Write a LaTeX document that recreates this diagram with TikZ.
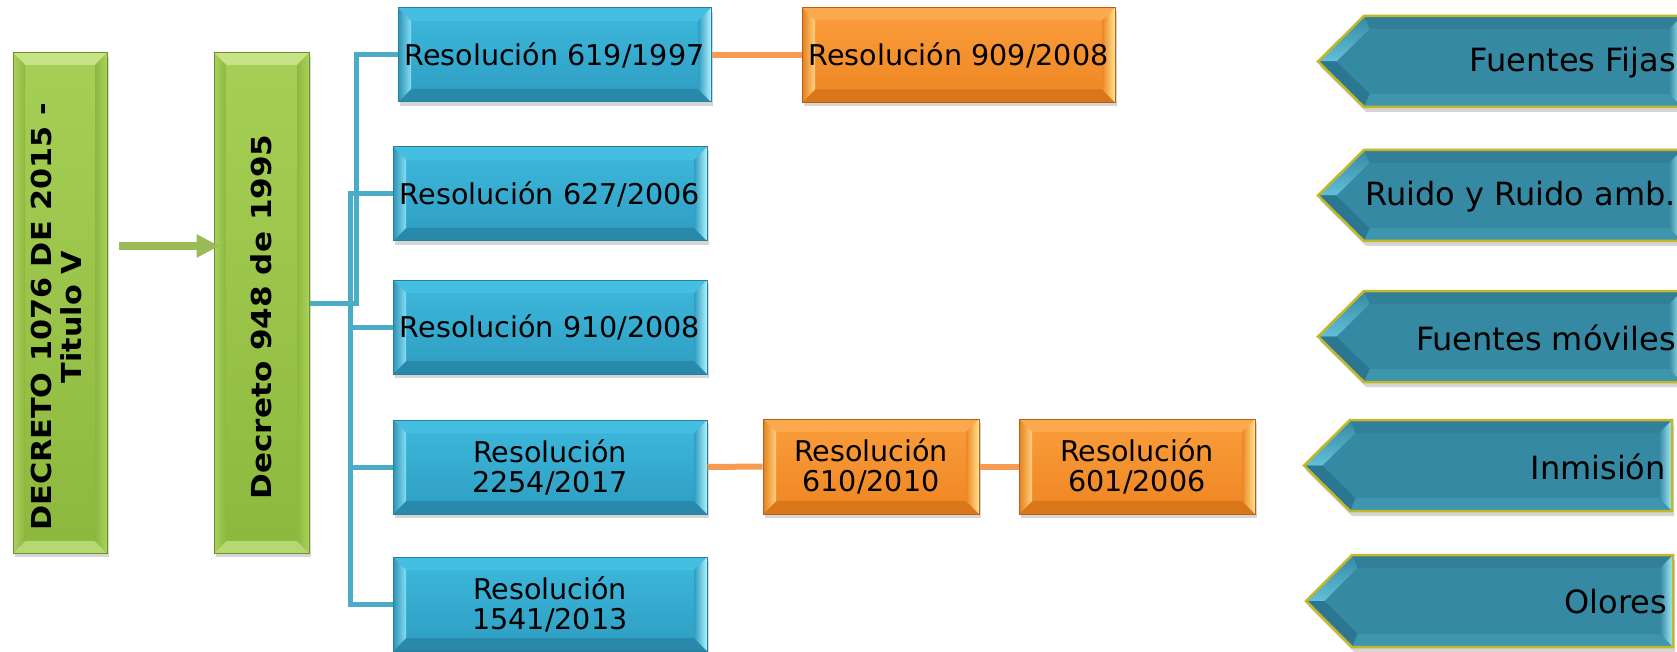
\documentclass[tikz,border=0pt]{standalone}
\usepackage{fontspec}
\setmainfont{DejaVu Sans}
\usetikzlibrary{arrows.meta,shadows,calc}

\definecolor{bMainT}{HTML}{3DB9DD}
\definecolor{bMainB}{HTML}{2E9DC1}
\definecolor{bBorder}{HTML}{2B7F9C}
\definecolor{bTop}{HTML}{45BFE1}
\definecolor{bBot}{HTML}{2889AA}
\definecolor{bLight}{HTML}{B0F3FC}
\definecolor{bLightIn}{HTML}{86DDF2}
\definecolor{bLeftOut}{HTML}{2A93B6}

\definecolor{oMainT}{HTML}{FA9E3C}
\definecolor{oMainB}{HTML}{EE8522}
\definecolor{oBorder}{HTML}{B4611A}
\definecolor{oTop}{HTML}{FBA94C}
\definecolor{oBot}{HTML}{D9761A}
\definecolor{oLight}{HTML}{FFE592}
\definecolor{oLightIn}{HTML}{FFD27E}
\definecolor{oLeftOut}{HTML}{E67E1E}

\definecolor{gMainT}{HTML}{A6D055}
\definecolor{gMainB}{HTML}{8DB83E}
\definecolor{gBorder}{HTML}{6F8E2F}
\definecolor{gTop}{HTML}{C6E386}
\definecolor{gBot}{HTML}{B5D872}
\definecolor{gSide}{HTML}{A9D25C}

\definecolor{sMain}{HTML}{3589A3}
\definecolor{sTop}{HTML}{317F98}
\definecolor{sBot}{HTML}{3E95AE}
\definecolor{sUp}{HTML}{62C0D8}
\definecolor{sLow}{HTML}{2B7690}
\definecolor{sLight}{HTML}{A9F0FA}
\definecolor{sEdge}{HTML}{C2B62A}

\definecolor{lineBlue}{HTML}{4BACC6}
\definecolor{lineOrange}{HTML}{F79A52}
\definecolor{arrowGreen}{HTML}{9BBB59}

\tikzset{
  bevel/.style n args={5}{%
    path picture={
      \path (path picture bounding box.north west) coordinate (pbnw)
            (path picture bounding box.north east) coordinate (pbne)
            (path picture bounding box.south east) coordinate (pbse)
            (path picture bounding box.south west) coordinate (pbsw);
      \fill[#2] (pbnw) -- (pbne) -- ([shift={(-#1,#1)}]pbne) -- ([shift={(#1,#1)}]pbnw) -- cycle;
      \fill[#4] (pbsw) -- (pbse) -- ([shift={(-#1,-#1)}]pbse) -- ([shift={(#1,-#1)}]pbsw) -- cycle;
      \shade[#3] (pbne) -- (pbse) -- ([shift={(-#1,-#1)}]pbse) -- ([shift={(-#1,#1)}]pbne) -- cycle;
      \shade[#5] (pbnw) -- (pbsw) -- ([shift={(#1,-#1)}]pbsw) -- ([shift={(#1,#1)}]pbnw) -- cycle;
    }
  },
  boxshadow/.style={drop shadow={shadow xshift=1.5pt,shadow yshift=-4pt,opacity=.16,fill=black}},
  resbox/.style={draw=bBorder, line width=1pt, top color=bMainT, bottom color=bMainB,
    inner sep=0pt, minimum height=94pt, boxshadow,
    font=\fontsize{28.6}{30}\selectfont, align=center, text=black,
    bevel={13}{bTop}{left color=bMainB,right color=bLight}{bBot}{left color=bLeftOut,right color=bLightIn}},
  orbox/.style={draw=oBorder, line width=1pt, top color=oMainT, bottom color=oMainB,
    inner sep=0pt, minimum height=95pt, boxshadow,
    font=\fontsize{28.6}{30}\selectfont, align=center, text=black,
    bevel={13}{oTop}{left color=oMainB,right color=oLight}{oBot}{left color=oLeftOut,right color=oLightIn}},
  decbox/.style={draw=gBorder, line width=1pt, top color=gMainT, bottom color=gMainB,
    inner sep=0pt, minimum height=500pt, boxshadow,
    font=\bfseries\fontsize{27.5}{30}\selectfont, text=black,
    bevel={12}{gTop}{left color=gMainB,right color=gSide}{gBot}{left color=gSide,right color=gMainB}},
  blueline/.style={draw=lineBlue, line width=5pt},
  orangeline/.style={draw=lineOrange, line width=6pt},
  garrow/.style={draw=arrowGreen, line width=8pt, -{Triangle[length=23pt,width=22pt]}},
  srctext/.style={font=\fontsize{32}{35}\selectfont, text=black, inner sep=0pt, anchor=east}
}

\newcommand\srcshape[7]{%
  \pgfmathsetmacro\ymid{(#5+#6)/2}
  \fill[black,opacity=.16] (#2+2,\ymid+5) -- (#3+2,#5+5) -- (#4+2,#5+5) -- (#4+2,#6+5) -- (#3+2,#6+5) -- cycle;
  \fill[sMain] (#2,\ymid) -- (#3,#5) -- (#4,#5) -- (#4,#6) -- (#3,#6) -- cycle;
  \fill[sTop] (#3,#5) -- (#4,#5) -- (#4-13,#5+13) -- (#3+5.4,#5+13) -- cycle;
  \fill[sBot] (#3,#6) -- (#4,#6) -- (#4-13,#6-13) -- (#3+5.4,#6-13) -- cycle;
  \shade[left color=sMain,right color=sLight] (#4,#5) -- (#4,#6) -- (#4-13,#6-13) -- (#4-13,#5+13) -- cycle;
  \shade[top color=sMain,bottom color=sUp] (#2,\ymid) -- (#3,#5) -- (#3+5.4,#5+13) -- (#2+18.4,\ymid) -- cycle;
  \fill[sLow] (#2,\ymid) -- (#3,#6) -- (#3+5.4,#6-13) -- (#2+18.4,\ymid) -- cycle;
  \draw[sEdge,line width=2.5pt,line join=miter] (#2,\ymid) -- (#3,#5) -- (#4,#5) -- (#4,#6) -- (#3,#6) -- cycle;
  \node[srctext] (#1) at (#4-6,\ymid+1) {#7};
}

\begin{document}
\begin{tikzpicture}[x=1pt,y=-1pt]
\useasboundingbox (0,0) rectangle (1677,652);
\clip (0,0) rectangle (1677,652);
\fill[white] (0,0) rectangle (1677,652);

% green decree boxes
\node[decbox, minimum width=94pt] (d1076) at (60,303)
  {\rotatebox{90}{\scalebox{1.1}[1]{\begin{tabular}{@{}c@{}}DECRETO 1076 DE 2015 -\\Titulo V\end{tabular}}\hspace*{28pt}}};
\node[decbox, minimum width=95pt] (d948) at (261.5,303)
  {\rotatebox{90}{\scalebox{1.13}[1]{Decreto 948 de 1995}\hspace*{28pt}}};

% blue resolution boxes
\node[resbox, minimum width=313pt] (r619) at (554.5,55) {Resolución 619/1997};
\node[resbox, minimum width=314pt] (r627) at (550,194) {Resolución 627/2006};
\node[resbox, minimum width=314pt] (r910) at (550,327) {Resolución 910/2008};
\node[resbox, minimum width=314pt] (r2254) at (550,467) {Resolución\\2254/2017};
\node[resbox, minimum width=314pt] (r1541) at (550,604) {Resolución\\1541/2013};

% orange resolution boxes
\node[orbox, minimum width=313pt] (r909) at (958.5,55) {Resolución 909/2008};
\node[orbox, minimum width=216pt] (r610) at (871,466.5) {Resolución\\610/2010};
\node[orbox, minimum width=236pt] (r601) at (1137,466.5) {Resolución\\601/2006};

% connectors
\draw[garrow] ([shift={(11,-57)}]d1076.east) -- ([shift={(6,-57)}]d948.west);
\draw[blueline] (d948.east) -- ++(47,0) |- (r619.west);
\draw[blueline] (d948.east) -- ++(41,0) |- (r627.west);
\draw[blueline] (d948.east) -- ++(41,0) |- (r910.west);
\draw[blueline] (d948.east) -- ++(41,0) |- (r2254.west);
\draw[blueline] (d948.east) -- ++(41,0) |- (r1541.west);
\draw[orangeline] (r619.east) -- (r909.west);
\draw[orangeline] (r2254.east) -- (r610.west);
\draw[orangeline] (r610.east) -- (r601.west);

% source shapes on the right
\srcshape{fijas}{1318}{1364}{1682}{16}{107}{Fuentes Fijas}
\srcshape{ruido}{1318}{1364}{1682}{150}{241}{Ruido y Ruido amb.}
\srcshape{moviles}{1318}{1364}{1682}{291}{382}{Fuentes móviles}
\srcshape{inmision}{1304}{1350}{1672}{420}{511}{Inmisión}
\srcshape{olores}{1306}{1352}{1673}{555}{647}{Olores}
\end{tikzpicture}
\end{document}
